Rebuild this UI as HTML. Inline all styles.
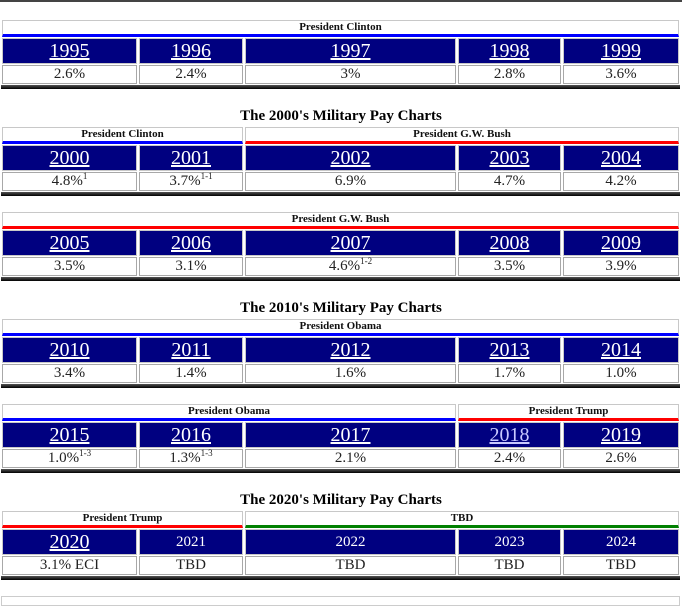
<!DOCTYPE html>
<html><head><meta charset="utf-8">
<style>
body{margin:0;width:682px;height:600px;background:#fff;position:relative;overflow:hidden;font-family:"Liberation Serif",serif;}
.a{position:absolute;box-sizing:border-box;}
.hd{border:1px solid #c8c8c8;font-weight:bold;font-size:11px;text-align:center;line-height:13px;color:#111;}
.yr{background:#000080;border:1px solid #c8c8c8;color:#fff;text-align:center;font-size:20px;line-height:24px;}
.yr span{text-decoration:underline;}
.yr.plain{font-size:15px;}
.yr.plain span{text-decoration:none;}
.vl{border:1px solid #a8a8a8;text-align:center;font-size:15px;line-height:17px;color:#222;}
.vl sup{font-size:9px;line-height:0;}
.ti{font-weight:bold;font-size:15px;text-align:center;width:682px;left:0;}
.bar{left:1px;width:679px;height:4px;background:linear-gradient(#555,#000);}
</style></head><body>
<div class="a" style="left:0;top:0;width:682px;height:2px;background:#444"></div>
<div class="a" style="left:1px;top:596px;width:679px;height:10px;border:1px solid #ccc"></div>
<script>
const cols=[[2,137],[139,243],[245,456],[458,561],[563,679]];
const blockTops=[20,127,212,319,404,511];
const titles=[[117,"The 2000's Military Pay Charts"],[309,"The 2010's Military Pay Charts"],[501,"The 2020's Military Pay Charts"]];
const groups=[
 [[0,4,"President Clinton","#0000ff"]],
 [[0,1,"President Clinton","#0000ff"],[2,4,"President G.W. Bush","#ff0000"]],
 [[0,4,"President G.W. Bush","#ff0000"]],
 [[0,4,"President Obama","#0000ff"]],
 [[0,2,"President Obama","#0000ff"],[3,4,"President Trump","#ff0000"]],
 [[0,1,"President Trump","#ff0000"],[2,4,"TBD","#008000"]]
];
const years=[["1995","1996","1997","1998","1999"],["2000","2001","2002","2003","2004"],["2005","2006","2007","2008","2009"],["2010","2011","2012","2013","2014"],["2015","2016","2017","2018","2019"],["2020","2021","2022","2023","2024"]];
const values=[["2.6%","2.4%","3%","2.8%","3.6%"],["4.8%<sup>1</sup>","3.7%<sup>1-1</sup>","6.9%","4.7%","4.2%"],["3.5%","3.1%","4.6%<sup>1-2</sup>","3.5%","3.9%"],["3.4%","1.4%","1.6%","1.7%","1.0%"],["1.0%<sup>1-3</sup>","1.3%<sup>1-3</sup>","2.1%","2.4%","2.6%"],["3.1% ECI","TBD","TBD","TBD","TBD"]];
function mk(cls,x,y,w,h,html){const d=document.createElement('div');d.className='a '+cls;d.style.left=x+'px';d.style.top=y+'px';d.style.width=w+'px';d.style.height=h+'px';d.innerHTML=html;document.body.appendChild(d);return d;}
titles.forEach(t=>{const d=mk('ti',0,t[0]-9,682,18,t[1]);

});
blockTops.forEach((top,b)=>{
 groups[b].forEach(g=>{const x=cols[g[0]][0],w=cols[g[1]][1]-x;
  const d=mk('hd',x,top,w,17,g[2]);d.style.borderBottom='3px solid '+g[3];
  
  });
 cols.forEach((c,i)=>{
  const plain=(b===5&&i>0);
  const y=mk('yr'+(plain?' plain':''),c[0],top+18,c[1]-c[0],26,'<span>'+years[b][i]+'</span>');
  if(b===4&&i===3)y.style.color='#c8c8ff';
  
  
  const v=mk('vl',c[0],top+45,c[1]-c[0],19,values[b][i]);
  
  
 });
 const r=mk('bar',1,top+65,679,4,'');
 
 
});
</script>
</body></html>
